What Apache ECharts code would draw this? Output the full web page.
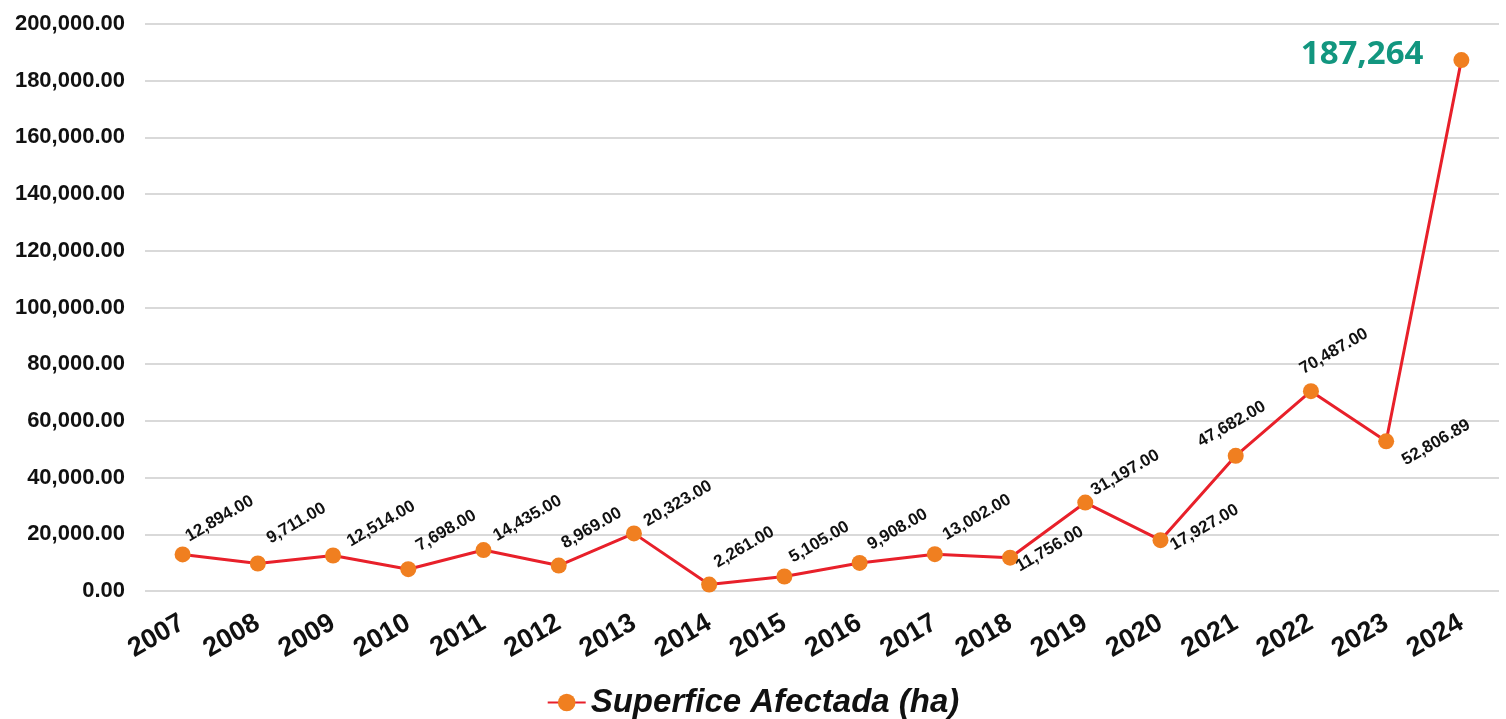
<!DOCTYPE html>
<html>
<head>
<meta charset="utf-8">
<script src="https://cdn.jsdelivr.net/npm/echarts@6/dist/echarts.min.js"></script>
<style>html,body{margin:0;padding:0;background:#fff}#c{width:1506px;height:719px}</style>
</head>
<body>
<div id="c"></div>
<script>
const years = ['2007','2008','2009','2010','2011','2012','2013','2014','2015','2016','2017','2018','2019','2020','2021','2022','2023','2024'];
const superficie = [12894.00, 9711.00, 12514.00, 7698.00, 14435.00, 8969.00, 20323.00, 2261.00, 5105.00, 9908.00, 13002.00, 11756.00, 31197.00, 17927.00, 47682.00, 70487.00, 52806.89, 187264];
const seriesName = 'Superfice Afectada (ha)';
const yTicks = { min: 0, max: 200000, interval: 20000 };
// label offsets (dx, dy) of text lower-left from point
const labelOffsets = [[9,-11],[15,-18],[20,-7],[14,-16],[16,-7],[9,-15],[16,-5],[11,-15],[11,-12],[14,-11],[14,-12],[12,16],[12,-5],[16,12],[-32,-7],[-5,-15],[22,26],null];

const fmt2 = v => v.toLocaleString('en-US',{minimumFractionDigits:2, maximumFractionDigits:2});

const data = superficie.map((v,i) => {
  const o = labelOffsets[i];
  if (!o) {
    return { value: v, label: {
      show: true, position: 'left', distance: 30, rotate: 0,
      formatter: () => v.toLocaleString('en-US',{maximumFractionDigits:0}),
      fontFamily: 'Open Sans', fontWeight: 'bold', fontSize: 33, color: '#12967f',
      offset: [0, -6], align: 'right', verticalAlign: 'middle'
    }};
  }
  return { value: v, label: { position: [7.5 + o[0], 7.5 + o[1] + 2] } };
});

const chart = echarts.init(document.getElementById('c'), null, {renderer:'canvas'});
chart.setOption({
  animation: false,
  grid: { left: 145, right: 7, top: 24, bottom: 128 },
  xAxis: {
    type: 'category', data: years, boundaryGap: true,
    axisLine: { show: false }, axisTick: { show: false },
    axisLabel: { rotate: 30, margin: 30, fontFamily: 'Liberation Sans, Arial', fontWeight: 'bold', fontSize: 27, color: '#111' }
  },
  yAxis: {
    type: 'value', min: yTicks.min, max: yTicks.max, interval: yTicks.interval,
    axisLine: { show: false }, axisTick: { show: false },
    splitLine: { lineStyle: { color: '#d9d9d9', width: 2 } },
    axisLabel: { margin: 20, formatter: v => fmt2(v), fontFamily: 'Liberation Sans, Arial', fontWeight: 'bold', fontSize: 22, color: '#111' }
  },
  legend: {
    bottom: -5, left: 'center', itemWidth: 38, itemHeight: 22, itemGap: 8,
    textStyle: { fontFamily: 'Liberation Sans, Arial', fontWeight: 'bold', fontStyle: 'italic', fontSize: 33, color: '#111' },
    data: [seriesName]
  },
  series: [{
    name: seriesName, type: 'line', data: data,
    symbol: 'circle', symbolSize: 16,
    lineStyle: { color: '#e8202a', width: 3 },
    itemStyle: { color: '#f07f20' },
    label: {
      show: true, rotate: 30, align: 'left', verticalAlign: 'bottom',
      formatter: p => fmt2(p.value),
      fontFamily: 'Liberation Sans, Arial', fontWeight: 'bold', fontSize: 17, color: '#111'
    }
  }]
});
</script>
</body>
</html>
